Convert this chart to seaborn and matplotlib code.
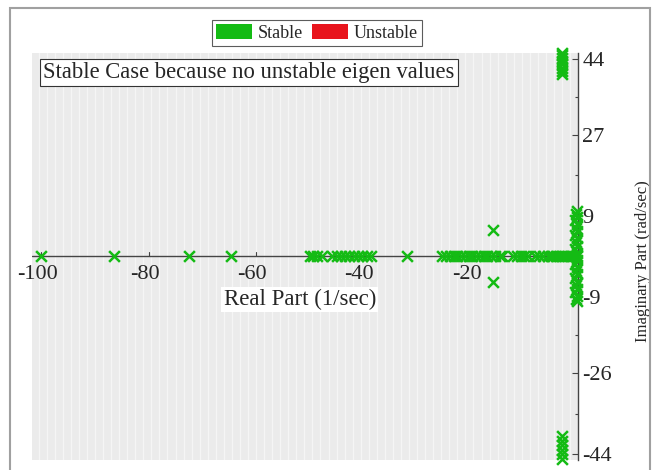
import numpy as np
import pandas as pd
import matplotlib
matplotlib.use("Agg")
import matplotlib.pyplot as plt
import seaborn as sns
from matplotlib.patches import Patch, Rectangle
from matplotlib.ticker import MultipleLocator, FixedLocator
from matplotlib.transforms import offset_copy

# --- eigen values (real part, imaginary part) ---
real_axis_re = [-100, -86.5, -72.5, -64.7,
                -50.0, -49.3, -48.6, -47.8, -45.8, -45.0, -44.2, -43.4, -42.6,
                -41.8, -41.0, -40.2, -39.4, -38.6, -31.8,
                -25.3, -24.6, -23.9, -23.2, -22.5, -21.8, -21.1, -20.4, -19.7,
                -19.0, -18.3, -17.6, -16.9, -16.2, -15.4, -14.6, -14.1,
                -12.1, -11.4, -10.7, -10.0, -9.3, -8.1, -7.3, -6.5,
                -5.6, -5.1, -4.6, -4.1, -3.6, -3.1, -2.6, -2.1, -1.6, -1.1, -0.6, -0.2]
real_axis_im = [0.0] * len(real_axis_re)

pair_re = [-15.8, -15.8]
pair_im = [5.8, -5.8]

axis_col_re = [-0.3, -0.5, -0.2, -0.4, -0.3, -0.6, -0.2, -0.4, -0.3, -0.5, -0.2, -0.4, -0.3,
               -0.3, -0.5, -0.2, -0.4, -0.3, -0.6, -0.2, -0.4, -0.3, -0.5, -0.2, -0.4, -0.3]
axis_col_im = [0.8, 1.6, 2.4, 3.2, 4.0, 4.8, 5.6, 6.4, 7.2, 8.0, 8.8, 9.5, 10.2,
               -0.8, -1.6, -2.4, -3.2, -4.0, -4.8, -5.6, -6.4, -7.2, -8.0, -8.8, -9.5, -10.0]

far_re = [-3.0, -3.0, -3.0, -3.0, -3.0, -3.0, -3.0, -3.0, -3.0, -3.0, -3.0, -3.0, -3.0, -3.0]
far_im = [40.5, 41.3, 42.0, 42.7, 43.4, 44.1, 44.8, 45.3,
          -40.0, -41.0, -42.0, -43.0, -44.0, -45.0]

unstable_re = []
unstable_im = []

y_ticks = [-44, -26, -9, 9, 27, 44]
x_ticks = [-100, -80, -60, -40, -20]

green = "#14bb14"
red = "#e8141c"

df = pd.DataFrame({
    "re": real_axis_re + pair_re + axis_col_re + far_re + unstable_re,
    "im": real_axis_im + pair_im + axis_col_im + far_im + unstable_im,
})

sns.set_theme(style="white")
plt.rcParams["font.family"] = ["Liberation Serif", "DejaVu Serif"]
plt.rcParams["axes.unicode_minus"] = False

fig = plt.figure(figsize=(6.57, 4.70), dpi=100)
ax = fig.add_axes([0.049, 0.021, 0.831, 0.866])

ax.set_facecolor("#ebebeb")
ax.xaxis.set_minor_locator(MultipleLocator(1.5))
ax.grid(which="minor", axis="x", color="white", linewidth=1.0, alpha=0.5)
ax.set_axisbelow(True)

# real axis line
ax.axhline(0, color="#444444", linewidth=1.0, zorder=1)

sns.scatterplot(data=df, x="re", y="im", marker="x", color=green, s=60,
                linewidth=1.8, ax=ax, zorder=3, clip_on=False, legend=False)

ax.set_xlim(-101.7, 0)
ax.set_ylim(-45.3, 45.2)

for s in ["left", "top", "bottom"]:
    ax.spines[s].set_visible(False)
ax.spines["right"].set_position(("data", 0))
ax.spines["right"].set_color("#444444")
ax.spines["right"].set_linewidth(1.0)

ax.yaxis.tick_right()
ax.set_yticks(y_ticks)
ax.set_yticklabels([str(t) for t in y_ticks])
ax.yaxis.set_minor_locator(FixedLocator([35.5, 18, -17.5, -35]))
ax.tick_params(axis="y", which="major", direction="in", length=4, width=0.8,
               color="#444444", labelsize=16, pad=3, right=True, left=False)
ax.tick_params(axis="y", which="minor", direction="in", length=2.5, width=0.8,
               color="#444444", right=True, left=False)

# x ticks drawn on the real axis line, labels just below it (slightly left of the tick)
ax.set_xticks([])
ax.tick_params(axis="x", which="both", length=0)
lbl_tr = offset_copy(ax.transData, fig=fig, x=-4, y=-3, units="dots")
for t in x_ticks:
    ax.plot([t, t], [0, 0.9], color="#444444", linewidth=0.8, zorder=1)
    ax.text(t, -1.2, str(t), ha="center", va="top", fontsize=16, transform=lbl_tr)

ax.set_xlabel("Real Part (1/sec)", fontsize=16.5,
              bbox=dict(facecolor="white", edgecolor="none", pad=1.5))
ax.xaxis.set_label_coords(0.49, 0.42)

ax.yaxis.set_label_position("right")
ax.set_ylabel("Imaginary Part (rad/sec)", fontsize=12, rotation=90)
ax.yaxis.set_label_coords(1.105, 0.49)

ax.text(0.02, 0.978, "Stable Case because no unstable eigen values",
        transform=ax.transAxes, ha="left", va="top", fontsize=16.3,
        bbox=dict(facecolor="white", edgecolor="#333333", linewidth=0.8, pad=2.5))

handles = [Patch(facecolor=green, edgecolor="none", label="Stable"),
           Patch(facecolor=red, edgecolor="none", label="Unstable")]
leg = fig.legend(handles=handles, loc="center", bbox_to_anchor=(0.4825, 0.93),
                 ncol=2, frameon=True, fancybox=False, fontsize=13,
                 handlelength=2.0, handleheight=0.9, handletextpad=0.3,
                 columnspacing=0.5, borderpad=0.25, borderaxespad=0)
leg.get_frame().set_edgecolor("#333333")
leg.get_frame().set_linewidth(0.8)

# outer frame around the whole chart
fig.add_artist(Rectangle((0.0152, -0.05), 0.974, 1.033, transform=fig.transFigure,
                         facecolor="none", edgecolor="#a0a0a0", linewidth=1.5))

fig.savefig("out.png", dpi=100)
